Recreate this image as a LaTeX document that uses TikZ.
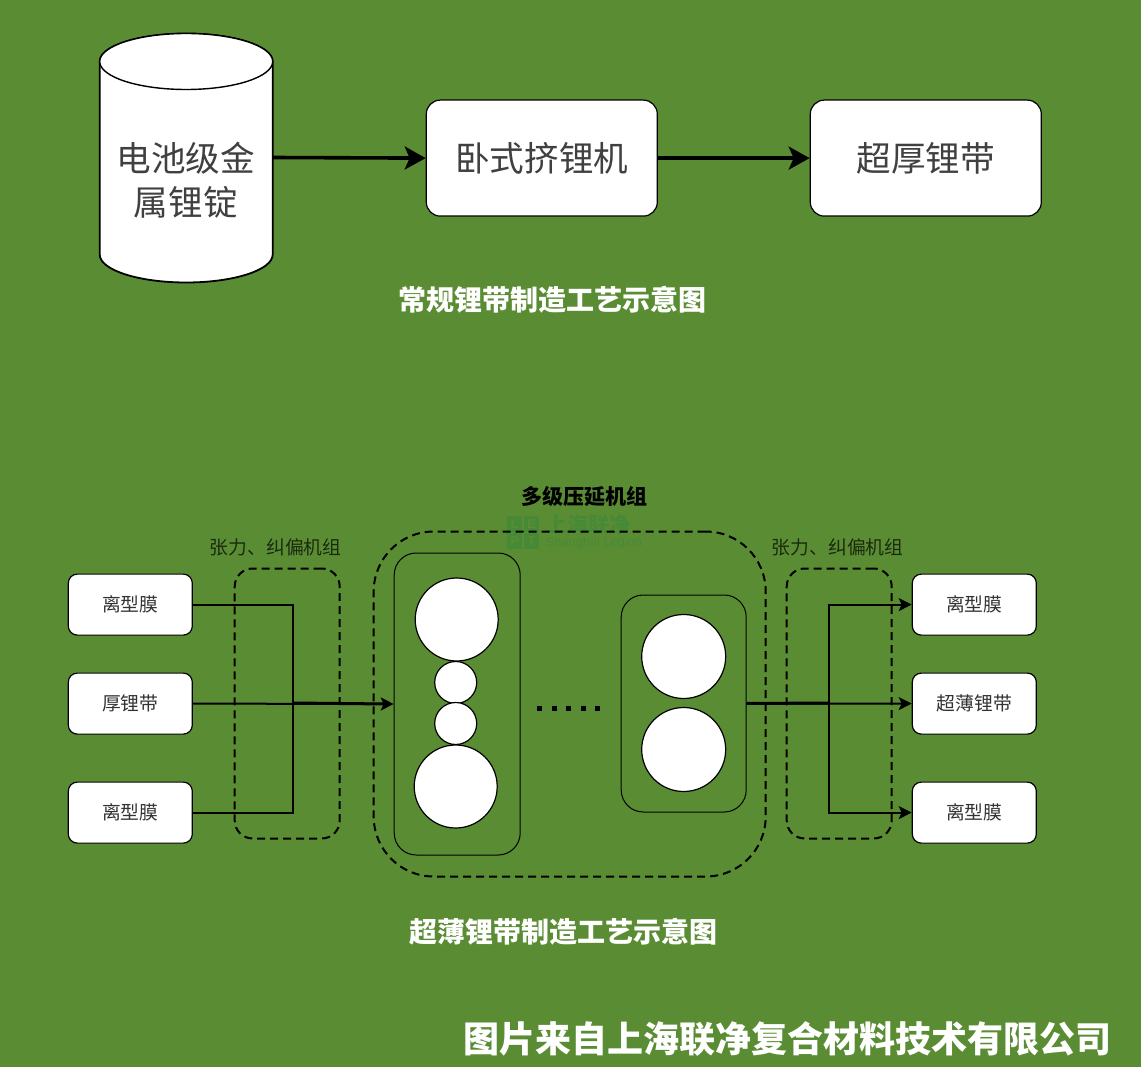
\documentclass[tikz,border=0pt]{standalone}
\usepackage{fontspec}
\setmainfont{Liberation Sans}
\newfontfamily\cjk{Noto Sans CJK SC}
\usetikzlibrary{arrows.meta,calc}
\definecolor{bgG}{HTML}{5A8D33}
\definecolor{wmG}{HTML}{468A38}
\tikzset{
  x=1pt,y=-1pt,
  lbl/.style={inner sep=0pt,font=\cjk\fontsize{#1}{#1}\selectfont},
  whitebox/.style={draw=black,fill=white,line width=1.2pt,rounded corners=#1,inner sep=0pt,anchor=north west},
  procbox/.style={whitebox=14pt,minimum width=231pt,minimum height=116pt,font=\cjk\fontsize{34.6}{40}\selectfont,text=black!75},
  filmbox/.style={whitebox=9pt,minimum width=124pt,minimum height=61pt,font=\cjk\fontsize{18.8}{22}\selectfont,text=black!80},
  framebox/.style={draw=black,line width=1pt,rounded corners=22pt,inner sep=0pt,anchor=north west},
  dashbox/.style={draw=black,line width=2pt,dash pattern=on 8pt off 5pt,inner sep=0pt,anchor=north west},
  roller/.style={circle,draw=black,fill=white,line width=1.2pt,inner sep=0pt,minimum size=#1},
  thick arrow/.style={draw=black,line width=3.6pt,-{Stealth[length=21pt,width=23pt,inset=5pt]}},
  thin arrow/.style={draw=black,line width=2pt,-{Stealth[length=13pt,width=13pt,inset=3pt]}},
  plain line/.style={draw=black,line width=2pt},
  merged line/.style={draw=black,line width=3pt},
  title/.style={inner sep=0pt,font=\cjk\bfseries\fontsize{28}{32}\selectfont,text=white},
  side label/.style={lbl=18.8,text=black!70!bgG},
  wmtile/.style={fill=wmG,minimum size=15.5pt,inner sep=0pt,text=bgG,font=\bfseries\fontsize{13}{13}\selectfont},
}
\begin{document}
\begin{tikzpicture}
\useasboundingbox (0,0) rectangle (1141,1067);
\fill[bgG] (0,0) rectangle (1141,1067);
\begin{scope}[shift={(-0.3,-0.5)}]

% cylinder
\filldraw[fill=white,draw=black,line width=1.8pt]
  (100,62) arc[x radius=86.5,y radius=28,start angle=180,end angle=360]
  -- (273,255) arc[x radius=86.5,y radius=28,start angle=0,end angle=180] -- cycle;
\filldraw[fill=white,draw=black,line width=1.4pt]
  (186.5,62) ellipse[x radius=86.5,y radius=28];
\node[inner sep=0pt,minimum width=173pt,minimum height=249pt] (ingot) at (186.5,158) {};
\node[inner sep=0pt,align=center,text=black!75,font=\cjk\fontsize{34.6}{44}\selectfont] (ingottext) at (186,181) {电池级金\\属锂锭};

\node[procbox] (press) at (426,100) {卧式挤锂机};
\node[procbox] (thick) at (810,100) {超厚锂带};
\draw[thick arrow] (ingot.east) -- (press.west);
\draw[thick arrow] (press.east) -- (thick.west);
\node[title] (t1) at (553,300.5) {常规锂带制造工艺示意图};

% watermark
\node[wmtile] (wmL) at (515,524.5) {L};
\node[wmtile] (wmE) at (532,524.5) {E};
\node[wmtile] (wmP) at (515,541.5) {P};
\node[wmtile] (wmT) at (532,541.5) {T};
\node[inner sep=0pt,text=wmG,font=\cjk\bfseries\fontsize{21}{21}\selectfont,anchor=west] (wmC) at (547,525) {上海联净};
\node[inner sep=0pt,text=wmG,font=\fontsize{12.8}{12.8}\selectfont,anchor=west] (wmD) at (546,543.5) {Shanghai Legion};

\node[inner sep=0pt,font=\cjk\bfseries\fontsize{21}{24}\selectfont,text=black] (multi) at (585,496.5) {多级压延机组};

% dashed groups
\node[dashbox,rounded corners=60pt,minimum width=392pt,minimum height=345pt] (mill) at (373,531) {};
\node[dashbox,rounded corners=18pt,minimum width=105pt,minimum height=270pt] (tensL) at (234,568) {};
\node[dashbox,rounded corners=18pt,minimum width=105pt,minimum height=270pt] (tensR) at (786,568) {};
\node[side label] (tlL) at (276,547.5) {张力、纠偏机组};
\node[side label] (tlR) at (838,547.5) {张力、纠偏机组};

% films left / right
\node[filmbox] (la) at (68,574) {离型膜};
\node[filmbox] (lb) at (68,673) {厚锂带};
\node[filmbox] (lc) at (68,782) {离型膜};
\node[filmbox] (ra) at (912,574) {离型膜};
\node[filmbox] (rb) at (912,673) {超薄锂带};
\node[filmbox] (rc) at (912,782) {离型膜};

% roller frames
\node[framebox,minimum width=126pt,minimum height=302pt] (stand1) at (394,553) {};
\node[framebox,minimum width=125pt,minimum height=217pt] (stand2) at (621,595) {};
\node[roller=83pt] (r1) at (457,620) {};
\node[roller=42pt] (r2) at (456,683) {};
\node[roller=42pt] (r3) at (456,724) {};
\node[roller=83pt] (r4) at (456,787) {};
\node[roller=84pt] (r5) at (684,657) {};
\node[roller=84pt] (r6) at (684,750) {};
\foreach \i/\px in {1/540,2/554.5,3/569,4/583.5,5/598}{
  \node[fill=black,minimum size=5pt,inner sep=0pt] (dot\i) at (\px,708.5) {};
}

% connectors
\coordinate (jl) at (293.5,703.5);
\coordinate (jr) at (829.5,703.5);
\draw[plain line] (la.east) -| (jl);
\draw[plain line] (lc.east) -| (jl);
\draw[thin arrow] (lb.east) -- (stand1.west);
\draw[merged line] (jl) -- ($(stand1.west)+(-6,0)$);
\draw[thin arrow] (stand2.east) -- (rb.west);
\draw[merged line] (stand2.east) -- (jr);
\draw[thin arrow] (jr) |- (ra.west);
\draw[thin arrow] (jr) |- (rc.west);

\node[title] (t2) at (564,932.5) {超薄锂带制造工艺示意图};
\node[inner sep=0pt,font=\cjk\bfseries\fontsize{36}{40}\selectfont,text=white] (credit) at (788,1039.5) {图片来自上海联净复合材料技术有限公司};
\end{scope}
\end{tikzpicture}
\end{document}
